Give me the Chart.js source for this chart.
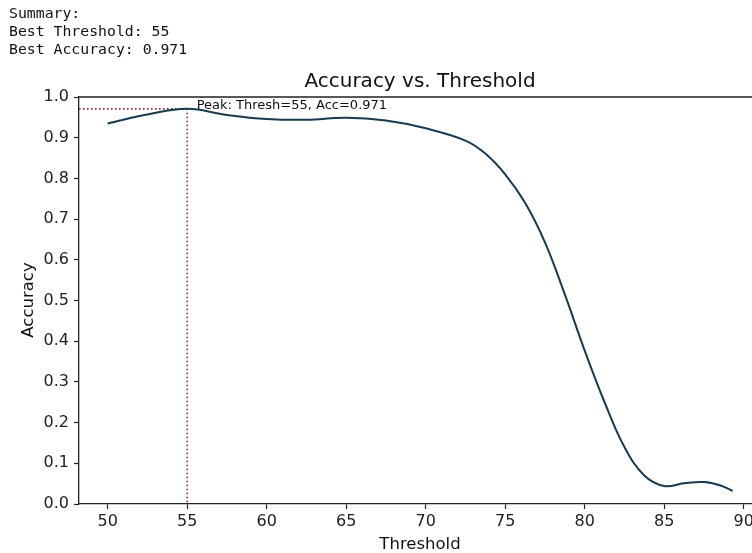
<!DOCTYPE html>
<html>
<head>
<meta charset="utf-8">
<script src="https://cdn.jsdelivr.net/npm/chart.js@4"></script>
<style>
  html, body { margin: 0; padding: 0; background: #fff; overflow: hidden; width: 752px; height: 553px; }
  canvas { display: block; }
</style>
</head>
<body>
<canvas id="c" width="768" height="553"></canvas>
<script>
// ---- data ----
const thresholds = [50, 52.5, 55, 57.5, 60, 62.5, 65, 67.5, 70, 72.5, 73.75, 75, 76.25, 77.5, 78.75, 80, 81.25, 82.5, 83.75, 85, 86.25, 87.5, 88.5, 89.3];
const accuracies = [0.935, 0.957, 0.971, 0.956, 0.946, 0.944, 0.949, 0.942, 0.923, 0.893, 0.861, 0.81, 0.74, 0.643, 0.515, 0.377, 0.25, 0.14, 0.07, 0.044, 0.051, 0.054, 0.046, 0.032];
const peakThreshold = 55;
const peakAccuracy = 0.971;
const summaryLines = ["Summary:", "Best Threshold: 55", "Best Accuracy: 0.971"];
const xTickValues = [50, 55, 60, 65, 70, 75, 80, 85, 90];
const yTickValues = [0, 0.1, 0.2, 0.3, 0.4, 0.5, 0.6, 0.7, 0.8, 0.9, 1.0];
const xRange = [48.2, 91.4];
const yRange = [0, 1];

const curve = thresholds.map((t, i) => ({ x: t, y: accuracies[i] }));
const peakGuide = [
  { x: xRange[0], y: peakAccuracy },
  { x: peakThreshold, y: peakAccuracy },
  { x: peakThreshold, y: 0 }
];

const FONT = "'DejaVu Sans', sans-serif";
const MONO = "'DejaVu Sans Mono', monospace";

const textPlugin = {
  id: 'texts',
  afterDraw(chart) {
    const { ctx, chartArea: a, scales } = chart;
    ctx.save();
    // top & right spines
    ctx.strokeStyle = '#222';
    ctx.lineWidth = 1.3;
    ctx.beginPath();
    ctx.moveTo(a.left, a.top); ctx.lineTo(a.right, a.top); ctx.lineTo(a.right, a.bottom);
    ctx.stroke();
    // summary
    ctx.fillStyle = '#111';
    ctx.font = "14.8px " + MONO;
    ctx.textAlign = 'left';
    ctx.textBaseline = 'alphabetic';
    summaryLines.forEach((s, i) => ctx.fillText(s, 9, 18 + i * 18));
    // title
    ctx.font = "20px " + FONT;
    ctx.textAlign = 'center';
    ctx.fillStyle = '#111';
    ctx.fillText("Accuracy vs. Threshold", 420, 87);
    // x title
    ctx.font = "16.5px " + FONT;
    ctx.fillText("Threshold", 420, 549);
    // y title
    ctx.save();
    ctx.translate(33, 300);
    ctx.rotate(-Math.PI / 2);
    ctx.fillText("Accuracy", 0, 0);
    ctx.restore();
    // annotation
    ctx.font = "13px " + FONT;
    ctx.textAlign = 'left';
    const px = scales.x.getPixelForValue(peakThreshold + 0.6);
    const py = scales.y.getPixelForValue(peakAccuracy);
    ctx.fillText(`Peak: Thresh=${peakThreshold}, Acc=${peakAccuracy}`, px, py);
    ctx.restore();
  }
};

new Chart(document.getElementById('c'), {
  type: 'line',
  data: {
    datasets: [
      {
        data: curve,
        borderColor: '#183a4f',
        borderWidth: 2,
        pointRadius: 0,
        tension: 0.4,
        fill: false
      },
      {
        data: peakGuide,
        borderColor: '#9b2d35',
        borderWidth: 1.7,
        borderDash: [1.6, 2.4],
        pointRadius: 0,
        tension: 0,
        fill: false
      }
    ]
  },
  options: {
    responsive: false,
    animation: false,
    devicePixelRatio: 1,
    layout: { padding: { top: 97, left: 0, right: 2, bottom: 0 } },
    plugins: { legend: { display: false }, title: { display: false }, tooltip: { enabled: false } },
    scales: {
      x: {
        type: 'linear',
        min: xRange[0], max: xRange[1],
        afterFit(s) { s.height = 49; },
        afterBuildTicks(s) { s.ticks = xTickValues.map(v => ({ value: v })); },
        ticks: { font: { family: FONT, size: 16 }, color: '#222', padding: 3, maxRotation: 0, callback: v => String(v) },
        grid: { drawOnChartArea: false, drawTicks: true, tickLength: 5, tickColor: '#222', tickWidth: 1.2 },
        border: { display: true, color: '#222', width: 1.3 }
      },
      y: {
        type: 'linear',
        min: yRange[0], max: yRange[1],
        afterFit(s) { s.width = 79; },
        afterBuildTicks(s) { s.ticks = yTickValues.map(v => ({ value: v })); },
        ticks: { font: { family: FONT, size: 16 }, color: '#222', padding: 5, callback: v => Number(v).toFixed(1) },
        grid: { drawOnChartArea: false, drawTicks: true, tickLength: 5, tickColor: '#222', tickWidth: 1.2 },
        border: { display: true, color: '#222', width: 1.3 }
      }
    }
  },
  plugins: [textPlugin]
});
</script>
</body>
</html>
